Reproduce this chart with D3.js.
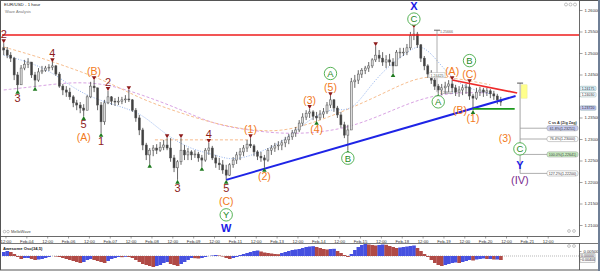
<!DOCTYPE html>
<html>
<head>
<meta charset="utf-8">
<script src="https://cdn.jsdelivr.net/npm/d3@7"></script>
<style>
body { margin: 0; background: #fff; }
svg { display: block; font-family: "Liberation Sans", Arial, sans-serif; }
</style>
</head>
<body>
<div id="chart"></div>
<script>
var firstOpen = 1.2512;
var closes = [
  1.2507,1.2495,1.2488,1.2449,1.2426,1.2465,1.2474,1.2479,1.2449,1.2437,
  1.2456,1.2460,1.2465,1.2467,1.2470,1.2451,1.2423,1.2414,1.2409,1.2398,
  1.2384,1.2379,1.2372,1.2367,1.2398,1.2423,1.2419,1.2379,1.2340,1.2384,
  1.2398,1.2388,1.2386,1.2388,1.2391,1.2393,1.2391,1.2367,1.2349,1.2321,
  1.2286,1.2263,1.2274,1.2279,1.2274,1.2281,1.2286,1.2279,1.2256,1.2233,
  1.2247,1.2274,1.2263,1.2270,1.2263,1.2265,1.2256,1.2251,1.2274,1.2279,
  1.2256,1.2244,1.2240,1.2228,1.2216,1.2240,1.2251,1.2263,1.2270,1.2279,
  1.2288,1.2284,1.2270,1.2260,1.2256,1.2251,1.2274,1.2279,1.2284,1.2286,
  1.2291,1.2298,1.2305,1.2314,1.2321,1.2337,1.2351,1.2360,1.2363,1.2353,
  1.2349,1.2358,1.2363,1.2379,1.2391,1.2372,1.2356,1.2333,1.2309,1.2321,
  1.2433,1.2437,1.2451,1.2460,1.2465,1.2470,1.2484,1.2495,1.2488,1.2479,
  1.2484,1.2479,1.2470,1.2502,1.2502,1.2502,1.2512,1.2540,1.2544,1.2519,
  1.2488,1.2470,1.2451,1.2437,1.2423,1.2414,1.2419,1.2423,1.2428,1.2419,
  1.2409,1.2414,1.2419,1.2421,1.2400,1.2395,1.2409,1.2414,1.2409,1.2412,
  1.2405,1.2400,1.2391,1.2386
];
var highs = [
  1.2523,1.2514,1.2502,1.2491,1.2456,1.2472,1.2484,1.2488,1.2479,1.2456,
  1.2465,1.2470,1.2470,1.2474,1.2479,1.2472,1.2456,1.2428,1.2423,1.2419,
  1.2402,1.2391,1.2386,1.2381,1.2402,1.2433,1.2437,1.2419,1.2386,1.2391,
  1.2412,1.2400,1.2395,1.2398,1.2398,1.2402,1.2414,1.2393,1.2372,1.2356,
  1.2326,1.2291,1.2279,1.2286,1.2288,1.2293,1.2298,1.2302,1.2302,1.2263,
  1.2251,1.2302,1.2286,1.2279,1.2274,1.2274,1.2270,1.2263,1.2279,1.2291,
  1.2284,1.2263,1.2256,1.2251,1.2240,1.2244,1.2258,1.2270,1.2279,1.2286,
  1.2298,1.2302,1.2288,1.2274,1.2270,1.2263,1.2279,1.2286,1.2291,1.2295,
  1.2298,1.2305,1.2312,1.2321,1.2328,1.2344,1.2360,1.2367,1.2370,1.2367,
  1.2363,1.2367,1.2372,1.2386,1.2400,1.2393,1.2377,1.2363,1.2340,1.2333,
  1.2442,1.2449,1.2460,1.2465,1.2470,1.2479,1.2488,1.2516,1.2507,1.2502,
  1.2495,1.2498,1.2488,1.2507,1.2512,1.2512,1.2521,1.2549,1.2558,1.2549,
  1.2521,1.2493,1.2474,1.2460,1.2442,1.2428,1.2428,1.2433,1.2437,1.2437,
  1.2426,1.2423,1.2426,1.2428,1.2430,1.2405,1.2419,1.2421,1.2419,1.2419,
  1.2416,1.2412,1.2405,1.2398
];
var lows = [
  1.2495,1.2488,1.2479,1.2437,1.2414,1.2426,1.2460,1.2465,1.2442,1.2421,
  1.2433,1.2451,1.2456,1.2458,1.2460,1.2447,1.2419,1.2402,1.2398,1.2391,
  1.2374,1.2367,1.2360,1.2353,1.2367,1.2395,1.2409,1.2367,1.2314,1.2333,
  1.2381,1.2379,1.2377,1.2379,1.2381,1.2384,1.2386,1.2363,1.2340,1.2309,
  1.2274,1.2251,1.2242,1.2260,1.2265,1.2270,1.2274,1.2274,1.2247,1.2223,
  1.2205,1.2240,1.2251,1.2251,1.2251,1.2256,1.2247,1.2235,1.2247,1.2263,
  1.2251,1.2233,1.2228,1.2219,1.2205,1.2214,1.2233,1.2242,1.2251,1.2260,
  1.2270,1.2279,1.2260,1.2251,1.2247,1.2233,1.2247,1.2263,1.2270,1.2274,
  1.2274,1.2281,1.2288,1.2298,1.2305,1.2316,1.2330,1.2344,1.2349,1.2344,
  1.2342,1.2344,1.2349,1.2358,1.2372,1.2363,1.2349,1.2326,1.2302,1.2274,
  1.2321,1.2419,1.2428,1.2442,1.2451,1.2456,1.2465,1.2479,1.2479,1.2470,
  1.2465,1.2470,1.2453,1.2470,1.2488,1.2493,1.2495,1.2507,1.2530,1.2512,
  1.2479,1.2460,1.2442,1.2428,1.2414,1.2405,1.2402,1.2405,1.2409,1.2409,
  1.2400,1.2398,1.2402,1.2405,1.2391,1.2367,1.2391,1.2400,1.2398,1.2400,
  1.2395,1.2391,1.2381,1.2377
];
// Awesome Oscillator, one value per bar
var aoValues = [
  0.004,0.005,0.004,0.002,-0.001,-0.003,-0.002,-0.002,-0.003,-0.004,
  -0.0035,-0.003,-0.002,-0.001,0,-0.0005,-0.001,-0.002,-0.003,-0.004,
  -0.005,-0.006,-0.007,-0.006,-0.004,-0.003,-0.004,-0.005,-0.006,-0.007,
  -0.005,-0.003,-0.002,-0.001,-0.0012,-0.0008,-0.001,-0.002,-0.004,-0.006,
  -0.008,-0.009,-0.010,-0.011,-0.010,-0.009,-0.007,-0.006,-0.008,-0.009,
  -0.010,-0.008,-0.006,-0.004,-0.002,-0.0022,-0.0025,-0.002,-0.001,0,
  0.0005,0.001,0.0005,-0.0005,-0.002,-0.003,-0.002,-0.001,0.001,0.002,
  0.003,0.004,0.005,0.0055,0.0045,0.0035,0.003,0.0025,0.002,0.0018,
  0.003,0.004,0.005,0.006,0.0065,0.007,0.008,0.009,0.0095,0.0098,
  0.009,0.008,0.007,0.0065,0.007,0.0072,0.005,0.003,0.001,-0.001,
  0.002,0.006,0.009,0.011,0.012,0.0115,0.011,0.0105,0.011,0.0115,
  0.0112,0.010,0.009,0.008,0.0085,0.009,0.0095,0.010,0.0105,0.008,
  0.005,0.002,-0.001,-0.004,-0.007,-0.009,-0.010,-0.009,-0.008,-0.007,
  -0.0065,-0.007,-0.006,-0.005,-0.004,-0.0045,-0.0035,-0.003,-0.0025,-0.003,
  -0.003,-0.0035,-0.0035,-0.004
];
// moving averages: slow & mid sampled every 10 bars, fast every 5 bars
var maSlow = [1.2414,1.2423,1.2433,1.2428,1.2402,1.2372,1.2335,1.2321,1.2312,1.2314,1.2328,1.2360,1.2395,1.2409,1.2407];
var maMid = [1.2514,1.2491,1.2463,1.2433,1.2391,1.2363,1.2337,1.2321,1.2316,1.2340,1.2372,1.2409,1.2449,1.2442,1.2426];
var maFast = [1.2495,1.2484,1.2470,1.2449,1.2419,1.2398,1.2384,1.2372,1.2356,1.2321,1.2293,1.2274,1.2265,1.2251,1.2258,
  1.2274,1.2293,1.2326,1.2356,1.2372,1.2363,1.2419,1.2465,1.2495,1.2526,1.2479,1.2433,1.2414,1.2405];

var priceTicks = [1.21,1.215,1.22,1.225,1.23,1.235,1.24,1.245,1.25,1.255,1.26];
var timeLabels = ['12:00','Feb-04','12:00','Feb-06','12:00','Feb-07','12:00','Feb-08','12:00','Feb-09',
  '12:00','Feb-11','12:00','Feb-13','12:00','Feb-14','12:00','Feb-15','12:00','Feb-18','12:00',
  'Feb-19','12:00','Feb-20','12:00','Feb-21','12:00'];

// wave counts: bar, H/L pivot, labels (prefix = label kind)
var pivots = [
  [0,'H',['d2']],[4,'L',['d3']],[9,'L',[]],[14,'H',['d4']],[23,'L',['d5','o(A)']],
  [26,'H',['o(B)']],[28,'L',['d1']],[30,'H',['d2']],[36,'H',[]],[42,'L',[]],
  [47,'H',[]],[50,'L',['d3']],[51,'H',[]],[57,'L',[]],[59,'H',['d4']],
  [64,'L',['d5','o(C)','gY','bW']],[71,'H',['o(1)']],[75,'L',['o(2)']],[88,'H',['o(3)']],
  [90,'L',['o(4)']],[94,'H',['o(5)','gA']],[99,'L',['gB']],[107,'H',[]],[112,'L',[]],
  [118,'H',['gC','bX']],[125,'L',['gA']],[129,'H',['o(A)']],[134,'H',['o(C)','gB']],
  [135,'L',['o(1)']]
];
// projected labels [hour, price, label]
var projLabels = [[289.5,1.2302,'o(3)'],[298,1.2277,'gC'],[298,1.2240,'bY'],[298,1.2205,'p(IV)']];

var redLevel = 1.2542;
var blueTrend = [[129,1.2205],[295.5,1.2400]];
var redTrend = [[259,1.2437],[296.4,1.2407]];
var greenLevel = [[271,1.2370],[295,1.2370]];
var orangeLevel = [[88,1.2298],[143,1.2298]];
var measure = [250.3, 1.2553, 1.2409];
var fibTop = [298.1, 1.2430];
var fibLevels = [1.23251, 1.23000, 1.22641, 1.22200];
var fibNames = ['61.8%','76.4%','100.0%','127.2%'];
var priceBoxes = [1.24175, 1.24030, 1.23720];

var W = 600, H = 271;
var svg = d3.select('#chart').append('svg').attr('width', W).attr('height', H);
svg.append('rect').attr('width', W).attr('height', H).attr('fill', '#fff');

var x = d3.scaleLinear().domain([0, 332]).range([2, 579]);
var y = d3.scaleLinear().domain([1.21, 1.26]).range([225, 10]);
var ao = d3.scaleLinear().domain([-0.01, 0.01]).range([266, 246]);
var hourOf = function (i) { return 2 * i + 1; };
var FONT = 'Liberation Sans, Arial, sans-serif';

svg.append('clipPath').attr('id', 'clipMain').append('rect').attr('x', 1).attr('y', 1).attr('width', 578).attr('height', 235);
svg.append('clipPath').attr('id', 'clipOsc').append('rect').attr('x', 1).attr('y', 244).attr('width', 578).attr('height', 25);

var plot = svg.append('g').attr('clip-path', 'url(#clipMain)');

// moving averages
function maLine(arr, step, color, dash) {
  plot.append('path').datum(arr)
    .attr('d', d3.line().x(function (d, k) { return x(hourOf(k * step)); }).y(function (d) { return y(d); }).curve(d3.curveBasis))
    .attr('fill', 'none').attr('stroke', color).attr('stroke-width', 1).attr('stroke-dasharray', dash);
}
maLine(maSlow, 10, '#d9a3e3', '3,2');
maLine(maMid, 10, '#f7be8f', '3,2');
maLine(maFast, 5, '#93b3ee', '1,1.5');

plot.append('line')
  .attr('x1', x(orangeLevel[0][0])).attr('x2', x(orangeLevel[1][0]))
  .attr('y1', y(orangeLevel[0][1])).attr('y2', y(orangeLevel[1][1]))
  .attr('stroke', '#f7b98a').attr('stroke-dasharray', '3,2');

// candles
var bars = closes.map(function (c, i) {
  return { i: i, o: i ? closes[i - 1] : firstOpen, h: highs[i], l: lows[i], c: c };
});
var bw = (x(2) - x(0)) * 0.58;
var cg = plot.append('g');
cg.selectAll('line').data(bars).enter().append('line')
  .attr('x1', function (d) { return x(hourOf(d.i)); })
  .attr('x2', function (d) { return x(hourOf(d.i)); })
  .attr('y1', function (d) { return y(Math.max(d.h, d.o, d.c)); })
  .attr('y2', function (d) { return y(Math.min(d.l, d.o, d.c)); })
  .attr('stroke', '#404040').attr('stroke-width', 0.8);
cg.selectAll('rect').data(bars).enter().append('rect')
  .attr('x', function (d) { return x(hourOf(d.i)) - bw / 2; })
  .attr('width', bw)
  .attr('y', function (d) { return y(Math.max(d.o, d.c)); })
  .attr('height', function (d) { return Math.max(0.8, Math.abs(y(d.o) - y(d.c))); })
  .attr('fill', function (d) { return d.c >= d.o ? '#dcdcdc' : '#404040'; })
  .attr('stroke', '#505050').attr('stroke-width', 0.5);

// levels and trend lines
plot.append('line').attr('x1', 2).attr('x2', 579).attr('y1', y(redLevel)).attr('y2', y(redLevel))
  .attr('stroke', '#ee1c1c').attr('stroke-width', 1.6);
function seg(pts, color, w) {
  plot.append('line')
    .attr('x1', x(pts[0][0])).attr('y1', y(pts[0][1]))
    .attr('x2', x(pts[1][0])).attr('y2', y(pts[1][1]))
    .attr('stroke', color).attr('stroke-width', w);
}
seg(blueTrend, '#1e24e6', 2);
seg(redTrend, '#ee2a2a', 1.6);
seg(greenLevel, '#1d9a1d', 1.6);

// measuring line near the X top
var mx = x(measure[0]);
plot.append('line').attr('x1', mx).attr('x2', mx).attr('y1', y(measure[1])).attr('y2', y(measure[2]))
  .attr('stroke', '#9a9a9a').attr('stroke-width', 0.8);
plot.append('line').attr('x1', mx - 3).attr('x2', mx + 3).attr('y1', y(measure[1])).attr('y2', y(measure[1]))
  .attr('stroke', '#555').attr('stroke-width', 0.9);
plot.append('text').attr('x', mx + 3).attr('y', y(measure[1]) + 3).attr('font-size', 3.6).attr('fill', '#666').text('1.25666');
plot.append('rect').attr('x', mx - 8).attr('y', y(1.2447) - 3).attr('width', 16).attr('height', 5)
  .attr('fill', '#fff').attr('stroke', '#aaa').attr('stroke-width', 0.5);
plot.append('text').attr('x', mx).attr('y', y(1.2447) + 1).attr('text-anchor', 'middle').attr('font-size', 3.6).attr('fill', '#555').text('1.24425');
plot.append('text').attr('x', mx + 3).attr('y', y(measure[2]) + 2).attr('font-size', 3.6).attr('fill', '#666').text('1.23603');

// fibonacci projection C vs A
var fx = x(fibTop[0]);
plot.append('rect').attr('x', fx + 1).attr('y', y(1.2426)).attr('width', 6).attr('height', y(1.2395) - y(1.2426))
  .attr('fill', '#ffff8c').attr('stroke', '#e6e67a').attr('stroke-width', 0.4);
plot.append('line').attr('x1', fx).attr('x2', fx).attr('y1', y(fibTop[1])).attr('y2', y(fibLevels[3]))
  .attr('stroke', '#9a9a9a').attr('stroke-width', 0.9);
plot.append('line').attr('x1', fx - 3).attr('x2', fx + 3).attr('y1', y(fibTop[1])).attr('y2', y(fibTop[1]))
  .attr('stroke', '#555').attr('stroke-width', 1);
var fibFill = ['#c9cdf2', '#ffffff', '#c9eec2', '#ffffff'];
fibLevels.forEach(function (v, k) {
  var fy = y(v);
  plot.append('line').attr('x1', fx).attr('x2', 547).attr('y1', fy).attr('y2', fy).attr('stroke', '#9a9a9a').attr('stroke-width', 0.8);
  plot.append('rect').attr('x', 547).attr('y', fy - 2.6).attr('width', 31).attr('height', 5.2).attr('rx', 2)
    .attr('fill', fibFill[k]).attr('stroke', '#9a9a9a').attr('stroke-width', 0.5);
  plot.append('text').attr('x', 562.5).attr('y', fy + 1.3).attr('text-anchor', 'middle').attr('font-size', 3.6)
    .attr('fill', '#333').text(fibNames[k] + '(' + d3.format('.5f')(v) + ')');
});
plot.append('text').attr('x', 562.5).attr('y', y(fibLevels[0]) - 4.5).attr('text-anchor', 'middle')
  .attr('font-size', 3.8).attr('font-weight', 'bold').attr('fill', '#333').text('C vs A (Zig Zag)');

// wave labels
var kinds = {
  d: { color: '#8e1b1b', size: 11, weight: 'normal' },
  o: { color: '#f27a1b', size: 10.5, weight: 'normal' },
  b: { color: '#1a1ae6', size: 11, weight: 'bold' },
  p: { color: '#7b2c8f', size: 11, weight: 'normal' }
};
var lg = svg.append('g');
function drawLabel(code, cx, cy) {
  var k = code[0], t = code.slice(1);
  if (k === 'g') {
    lg.append('circle').attr('cx', cx).attr('cy', cy).attr('r', 6.2)
      .attr('fill', '#fff').attr('stroke', '#44aa44').attr('stroke-width', 0.9);
    lg.append('text').attr('x', cx).attr('y', cy).attr('dy', '0.36em').attr('text-anchor', 'middle')
      .attr('font-size', 9.5).attr('fill', '#1f8a1f').text(t);
    return;
  }
  var s = kinds[k];
  lg.append('text').attr('x', cx).attr('y', cy).attr('dy', '0.36em').attr('text-anchor', 'middle')
    .attr('font-size', s.size).attr('font-weight', s.weight).attr('fill', s.color).text(t);
}
var tri = d3.symbol().type(d3.symbolTriangle).size(9);
pivots.forEach(function (p) {
  var cx = x(hourOf(p[0]));
  var isHigh = p[1] === 'H';
  var py = isHigh ? y(highs[p[0]]) : y(lows[p[0]]);
  lg.append('path').attr('d', tri)
    .attr('transform', 'translate(' + cx + ',' + (isHigh ? py - 2.5 : py + 2.5) + ')' + (isHigh ? ' rotate(180)' : ''))
    .attr('fill', isHigh ? '#8e1b1b' : '#1f7a1f');
  p[2].forEach(function (code, k) {
    drawLabel(code, cx, isHigh ? py - 9 - k * 13.5 : py + 8 + k * 13.5);
  });
});
// (B) sits left of the last (1)
drawLabel('o(B)', x(hourOf(135)) - 13, y(lows[135]));
projLabels.forEach(function (p) { drawLabel(p[2], x(p[0]), y(p[1])); });

// price axis (labels hidden under the price boxes, as on the terminal)
var covered = function (v) {
  return priceBoxes.some(function (b) { return Math.abs(y(b) - y(v)) < 4; });
};
var axG = svg.append('g').attr('transform', 'translate(579.5,0)');
axG.call(d3.axisRight(y).tickValues(d3.range(1.2065, 1.2615, 0.0005)).tickSize(1.5).tickFormat(''));
axG.call(d3.axisRight(y).tickValues(priceTicks).tickSize(3).tickPadding(2)
  .tickFormat(function (v) { return covered(v) ? '' : d3.format('.5f')(v); }));
axG.selectAll('.domain').remove();
axG.selectAll('line').attr('stroke', '#444').attr('stroke-width', 0.5);
axG.selectAll('text').attr('font-size', 4.2).attr('font-family', FONT).attr('fill', '#333');
var boxFill = ['#dff3fb', '#ffffff', '#c4c6ee'];
priceBoxes.forEach(function (v, k) {
  svg.append('rect').attr('x', 580).attr('y', y(v) - 2.2).attr('width', 16).attr('height', 4.4).attr('rx', 1)
    .attr('fill', boxFill[k]).attr('stroke', '#8aa').attr('stroke-width', 0.5);
  svg.append('text').attr('x', 588).attr('y', y(v) + 1.2).attr('text-anchor', 'middle').attr('font-size', 3.5)
    .attr('fill', '#223').text(d3.format('.5f')(v));
});

// time axis
var tickHours = timeLabels.map(function (t, k) { return 2 + 12 * k; });
var txG = svg.append('g').attr('transform', 'translate(0,236.5)');
txG.call(d3.axisBottom(x).tickValues(tickHours).tickSize(2).tickPadding(1)
  .tickFormat(function (d, k) { return timeLabels[k]; }));
txG.selectAll('.domain').remove();
txG.selectAll('line').attr('stroke', '#444').attr('stroke-width', 0.5);
txG.selectAll('text').attr('font-size', 4.3).attr('font-family', FONT).attr('fill', '#333');

// awesome oscillator
var og = svg.append('g').attr('clip-path', 'url(#clipOsc)');
og.append('line').attr('x1', 2).attr('x2', 579).attr('y1', ao(0)).attr('y2', ao(0))
  .attr('stroke', '#999').attr('stroke-width', 0.7).attr('stroke-dasharray', '1,1');
var aw = x(2) - x(0);
og.selectAll('rect').data(aoValues).enter().append('rect')
  .attr('x', function (d, i) { return x(hourOf(i)) - aw / 2; })
  .attr('width', aw + 0.2)
  .attr('y', function (d) { return Math.min(ao(d), ao(0)); })
  .attr('height', function (d) { return Math.abs(ao(d) - ao(0)); })
  .attr('fill', function (d, i) { return i > 0 && d < aoValues[i - 1] ? '#b04a46' : '#4650e0'; });
var oaG = svg.append('g').attr('transform', 'translate(579.5,0)');
oaG.call(d3.axisRight(ao).tickValues([0.005]).tickSize(2).tickPadding(2).tickFormat(d3.format('.5f')));
oaG.selectAll('.domain').remove();
oaG.selectAll('line').attr('stroke', '#444').attr('stroke-width', 0.5);
oaG.selectAll('text').attr('font-size', 4.2).attr('font-family', FONT).attr('fill', '#333');
[[0, '#fff'], [-0.004, '#fff']].forEach(function (b) {
  svg.append('rect').attr('x', 580).attr('y', ao(b[0]) - 2.2).attr('width', 15).attr('height', 4.4)
    .attr('fill', b[1]).attr('stroke', '#888').attr('stroke-width', 0.5);
  svg.append('text').attr('x', 587.5).attr('y', ao(b[0]) + 1.3).attr('text-anchor', 'middle')
    .attr('font-size', 3.6).attr('fill', '#222').text(d3.format('.5f')(b[0]));
});

// frames and captions
svg.append('line').attr('x1', 579.5).attr('x2', 579.5).attr('y1', 0).attr('y2', 236).attr('stroke', '#444').attr('stroke-width', 0.8);
svg.append('line').attr('x1', 579.5).attr('x2', 579.5).attr('y1', 243).attr('y2', 270).attr('stroke', '#444').attr('stroke-width', 0.8);
svg.append('line').attr('x1', 0).attr('x2', 579.5).attr('y1', 236.5).attr('y2', 236.5).attr('stroke', '#444').attr('stroke-width', 0.8);
svg.append('line').attr('x1', 0).attr('x2', 600).attr('y1', 243.5).attr('y2', 243.5).attr('stroke', '#555').attr('stroke-width', 0.8);
svg.append('rect').attr('x', 0.5).attr('y', 0.5).attr('width', 598).attr('height', 269.5)
  .attr('fill', 'none').attr('stroke', '#555').attr('stroke-width', 1);
svg.append('line').attr('x1', 599).attr('x2', 599).attr('y1', 0).attr('y2', 271).attr('stroke', '#6f7f96').attr('stroke-width', 2);

svg.append('text').attr('x', 4).attr('y', 6).attr('font-size', 4.4).attr('fill', '#222').text('EUR/USD - 1 hour');
svg.append('text').attr('x', 5).attr('y', 13).attr('font-size', 4).attr('fill', '#777').text('Wave Analysis');
svg.append('text').attr('x', 11).attr('y', 233).attr('font-size', 4).attr('fill', '#444').text('MelloWave');
[4.5, 8].forEach(function (cx) {
  svg.append('circle').attr('cx', cx).attr('cy', 231.6).attr('r', 1.3).attr('fill', 'none').attr('stroke', '#888').attr('stroke-width', 0.5);
});
svg.append('text').attr('x', 3).attr('y', 249.5).attr('font-size', 4.2).attr('font-weight', 'bold').attr('fill', '#222').text('Awesome Osc(34,5)');
[566, 570.5, 575].forEach(function (cx) {
  svg.append('circle').attr('cx', cx).attr('cy', 4.5).attr('r', 1.5).attr('fill', 'none').attr('stroke', '#999').attr('stroke-width', 0.6);
});
[[569, 231], [574, 231], [569, 246], [574, 246]].forEach(function (p) {
  svg.append('circle').attr('cx', p[0]).attr('cy', p[1]).attr('r', 1.4).attr('fill', 'none').attr('stroke', '#999').attr('stroke-width', 0.6);
});
</script>
</body>
</html>
